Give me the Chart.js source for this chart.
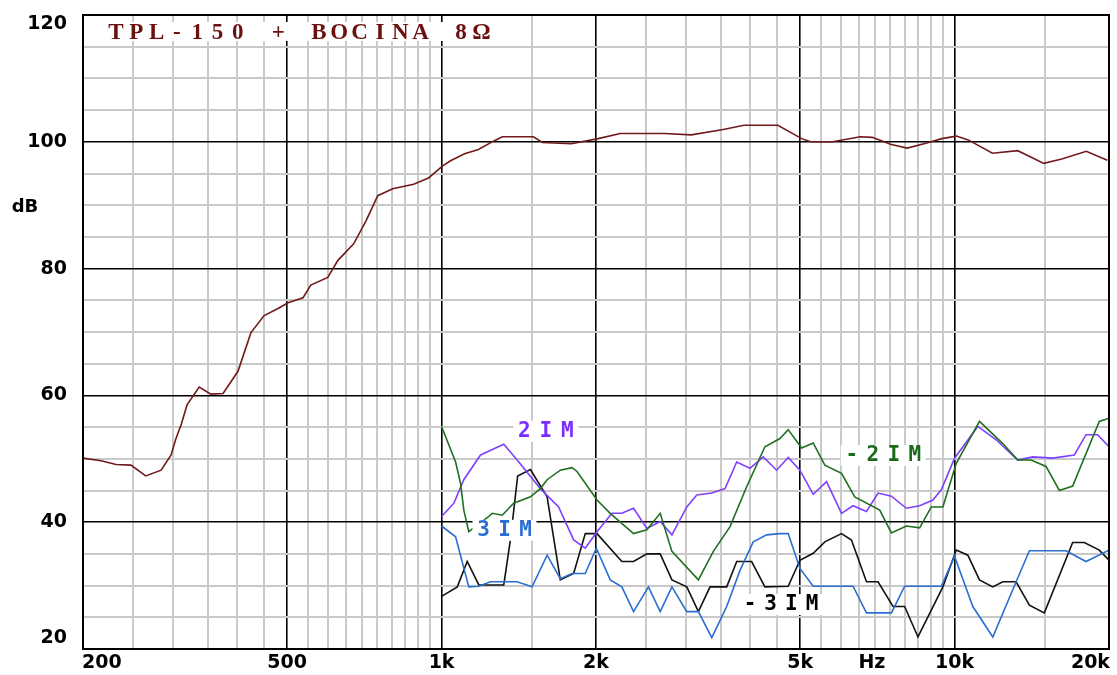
<!DOCTYPE html>
<html>
<head>
<meta charset="utf-8">
<script src="https://cdn.jsdelivr.net/npm/chart.js@4.4.1/dist/chart.umd.min.js"></script>
<style>
  html, body { margin: 0; padding: 0; background: #fff; }
  canvas { display: block; }
</style>
</head>
<body>
<canvas id="respChart" width="1117" height="675"></canvas>
<script>
// respuesta TPL-150 + bocina (Hz / dB)
const mainFreq = [200, 217, 232, 248, 265, 284, 297, 303, 311, 319, 337, 355, 375, 401, 425, 451, 480, 502, 537, 556, 600, 628, 674, 712, 751, 803, 882, 943, 1005, 1041, 1109, 1180, 1262, 1314, 1510, 1572, 1790, 2020, 2229, 2715, 3067, 3521, 3887, 4524, 5035, 5242, 5786, 6549, 6914, 7499, 8085, 8827, 9440, 10085, 10632, 11850, 13277, 14924, 16178, 18063, 19853];
const mainDb = [50.1, 49.7, 49.1, 49.0, 47.3, 48.2, 50.6, 53.0, 55.5, 58.5, 61.3, 60.2, 60.3, 63.8, 69.9, 72.6, 73.7, 74.6, 75.4, 77.4, 78.6, 81.3, 83.9, 87.5, 91.5, 92.6, 93.3, 94.3, 96.2, 97.0, 98.1, 98.8, 100.1, 100.8, 100.8, 99.9, 99.7, 100.5, 101.3, 101.3, 101.1, 101.9, 102.6, 102.6, 100.5, 100.0, 100.0, 100.8, 100.7, 99.6, 99.0, 99.8, 100.5, 100.9, 100.3, 98.2, 98.6, 96.6, 97.3, 98.5, 97.1];

// 2IM
const im2Freq = [1000, 1057, 1105, 1191, 1322, 1404, 1558, 1691, 1809, 1906, 2009, 2148, 2246, 2367, 2513, 2668, 2812, 3006, 3144, 3363, 3569, 3761, 3992, 4237, 4499, 4739, 4994, 5302, 5629, 6020, 6340, 6734, 7093, 7531, 8054, 8549, 9074, 9422, 10000, 11099, 12054, 13280, 14198, 15534, 17118, 18038, 18999, 20000];
const im2Db = [40.9, 43.0, 46.7, 50.6, 52.3, 49.8, 45.3, 42.4, 37.2, 35.9, 38.5, 41.4, 41.4, 42.2, 39.0, 40.1, 38.0, 42.4, 44.3, 44.6, 45.3, 49.5, 48.5, 50.3, 48.2, 50.2, 48.2, 44.4, 46.4, 41.4, 42.6, 41.7, 44.6, 44.1, 42.2, 42.6, 43.5, 45.1, 50.1, 55.1, 53.0, 49.8, 50.3, 50.1, 50.6, 53.8, 53.8, 51.9];

// -2IM
const imN2Freq = [1000, 1065, 1089, 1105, 1130, 1236, 1255, 1313, 1382, 1490, 1558, 1606, 1704, 1796, 1837, 2009, 2132, 2367, 2513, 2668, 2812, 3167, 3387, 3650, 3933, 4269, 4566, 4739, 5033, 5302, 5586, 6020, 6389, 7147, 7531, 8054, 8549, 9008, 9489, 10076, 11183, 12416, 13280, 14097, 15076, 16004, 16990, 19146, 20000];
const imN2Db = [55.1, 49.5, 46.1, 41.9, 38.5, 40.9, 41.4, 41.1, 43.0, 44.0, 45.3, 46.7, 48.2, 48.6, 48.0, 43.5, 41.4, 38.2, 38.8, 41.4, 35.4, 30.9, 35.4, 39.3, 45.6, 51.9, 53.2, 54.6, 51.7, 52.5, 49.0, 47.7, 44.0, 41.9, 38.3, 39.4, 39.1, 42.4, 42.4, 49.3, 55.9, 52.4, 49.8, 49.8, 48.8, 45.0, 45.7, 55.9, 56.4];

// 3IM
const im3Freq = [1000, 1065, 1130, 1182, 1245, 1404, 1501, 1606, 1704, 1796, 1906, 2003, 2132, 2246, 2367, 2531, 2668, 2812, 3006, 3167, 3363, 3596, 3817, 4051, 4302, 4566, 4739, 4994, 5302, 6340, 6734, 7531, 7993, 9422, 10000, 10854, 11872, 13183, 13990, 16491, 18038, 20000];
const im3Db = [39.4, 37.7, 29.8, 29.9, 30.6, 30.6, 29.8, 34.8, 31.1, 31.9, 31.9, 35.9, 30.9, 29.8, 25.9, 29.8, 25.9, 29.8, 25.9, 25.9, 21.8, 26.7, 32.4, 36.9, 38.0, 38.2, 38.2, 32.7, 29.9, 29.9, 25.7, 25.7, 29.9, 29.9, 34.6, 26.7, 21.9, 30.6, 35.5, 35.5, 33.8, 35.6];

// -3IM
const imN3Freq = [1000, 1073, 1122, 1182, 1322, 1362, 1407, 1490, 1606, 1704, 1809, 1906, 2009, 2246, 2367, 2513, 2668, 2812, 3006, 3167, 3337, 3596, 3761, 4022, 4269, 4739, 4994, 5302, 5586, 6020, 6295, 6734, 7093, 7586, 7993, 8485, 9489, 10076, 10614, 11183, 11872, 12416, 13183, 13990, 14962, 16990, 17901, 19146, 20000];
const imN3Db = [28.3, 29.8, 33.8, 30.1, 30.1, 37.2, 47.3, 48.3, 44.0, 30.9, 31.9, 38.2, 38.2, 33.8, 33.8, 35.0, 35.0, 30.9, 29.8, 25.9, 29.8, 29.8, 33.8, 33.8, 29.8, 29.9, 34.0, 35.1, 36.9, 38.2, 37.2, 30.6, 30.6, 26.7, 26.7, 21.9, 29.8, 35.6, 34.8, 30.9, 29.8, 30.6, 30.6, 26.9, 25.7, 36.8, 36.8, 35.6, 34.0];

// rejilla y etiquetas
const gridFreqs = [200, 250, 300, 350, 400, 450, 500, 550, 600, 650, 700, 750, 800, 850, 900, 950, 1000, 1500, 2000, 2500, 3000, 3500, 4000, 4500, 5000, 5500, 6000, 6500, 7000, 7500, 8000, 8500, 9000, 9500, 10000, 15000, 20000];
const majorFreqs = [200, 500, 1000, 2000, 5000, 10000, 20000];
const xLabelFreqs = [200, 500, 1000, 2000, 5000, 6900, 10000, 20000];
const xLabelTexts = ['200', '500', '1k', '2k', '5k', 'Hz', '10k', '20k'];
const yLabelVals = [120, 100, 80, 60, 40, 20];

const toPoints = (fs, vs) => fs.map((f, i) => ({ x: f, y: vs[i] }));

const curveLabels = [
  { text: '2IM', f: 1450, db: 54.4, color: '#7b2dff', pitch: 21.5 },
  { text: '3IM', f: 1207, db: 38.8, color: '#2a6fcf', pitch: 21 },
  { text: '-2IM', f: 6304, db: 50.6, color: '#1b6b1b', pitch: 21 },
  { text: '-3IM', f: 3992, db: 27.1, color: '#000000', pitch: 20.7 },
];

const decorations = {
  id: 'decorations',
  afterDatasetsDraw(chart) {
    const { ctx, chartArea: a, scales: { x, y } } = chart;
    ctx.save();

    // title
    ctx.fillStyle = '#fff';
    ctx.fillRect(104, 22, 399, 19);
    ctx.fillStyle = '#6b0f0f';
    ctx.font = 'bold 23px "Liberation Serif"';
    ctx.textAlign = 'center';
    ctx.textBaseline = 'middle';
    [...'TPL-150 + BOCINA 8Ω'].forEach((ch, i) => ctx.fillText(ch, 116 + i * 20.3, 33));

    // curve names
    ctx.font = 'bold 21px "DejaVu Sans Mono"';
    curveLabels.forEach(l => {
      const cx = x.getPixelForValue(l.f);
      const cy = y.getPixelForValue(l.db);
      const n = l.text.length;
      ctx.fillStyle = '#fff';
      ctx.fillRect(cx - 11, cy - 10, (n - 1) * l.pitch + 22, 21);
      ctx.fillStyle = l.color;
      [...l.text].forEach((ch, i) => ctx.fillText(ch, cx + i * l.pitch, cy + 1));
    });

    // frame
    ctx.strokeStyle = '#000';
    ctx.lineWidth = 2;
    ctx.strokeRect(a.left, a.top, a.right - a.left, a.bottom - a.top);

    // y labels
    ctx.fillStyle = '#000';
    ctx.font = 'bold 19px "DejaVu Sans"';
    ctx.textAlign = 'right';
    yLabelVals.forEach(v => {
      let py = y.getPixelForValue(v);
      if (v === 120) py += 9;
      if (v === 20) py -= 11;
      ctx.fillText(String(v), 67, py);
    });
    ctx.font = 'bold 18px "DejaVu Sans"';
    ctx.textAlign = 'center';
    ctx.fillText('dB', 25, 207);

    // x labels
    ctx.font = 'bold 19px "DejaVu Sans"';
    xLabelFreqs.forEach((f, i) => {
      let px = x.getPixelForValue(f);
      ctx.textAlign = 'center';
      if (i === 0) { ctx.textAlign = 'left'; px -= 1; }
      if (i === xLabelFreqs.length - 1) { ctx.textAlign = 'right'; px += 1; }
      ctx.fillText(xLabelTexts[i], px, 663);
    });
    ctx.restore();
  }
};

const line = (data, color) => ({
  data, borderColor: color, borderWidth: 1.6, pointRadius: 0, tension: 0, fill: false,
});

new Chart(document.getElementById('respChart'), {
  type: 'line',
  data: {
    datasets: [
      line(toPoints(mainFreq, mainDb), '#701a1a'),
      line(toPoints(imN2Freq, imN2Db), '#1f6f1f'),
      line(toPoints(im2Freq, im2Db), '#7f3fff'),
      line(toPoints(im3Freq, im3Db), '#2a6fcf'),
      line(toPoints(imN3Freq, imN3Db), '#111111'),
    ],
  },
  options: {
    responsive: false,
    devicePixelRatio: 1,
    animation: false,
    layout: { padding: { left: 83, right: 8, top: 15, bottom: 26 } },
    plugins: { legend: { display: false }, tooltip: { enabled: false } },
    scales: {
      x: {
        type: 'logarithmic',
        min: 200,
        max: 20000,
        afterBuildTicks: (scale) => { scale.ticks = gridFreqs.map(v => ({ value: v })); },
        ticks: { display: false },
        border: { display: false },
        grid: {
          drawTicks: false,
          tickLength: 0,
          color: (c) => majorFreqs.includes(c.tick.value) ? '#000' : '#c9c9c9',
          lineWidth: (c) => majorFreqs.includes(c.tick.value) ? 1.6 : 2,
        },
      },
      y: {
        min: 20,
        max: 120,
        ticks: { display: false, stepSize: 5 },
        border: { display: false },
        grid: {
          drawTicks: false,
          tickLength: 0,
          color: (c) => c.tick.value % 20 === 0 ? '#000' : '#c9c9c9',
          lineWidth: (c) => c.tick.value % 20 === 0 ? 1.6 : 2,
        },
      },
    },
  },
  plugins: [decorations],
});
</script>
</body>
</html>
